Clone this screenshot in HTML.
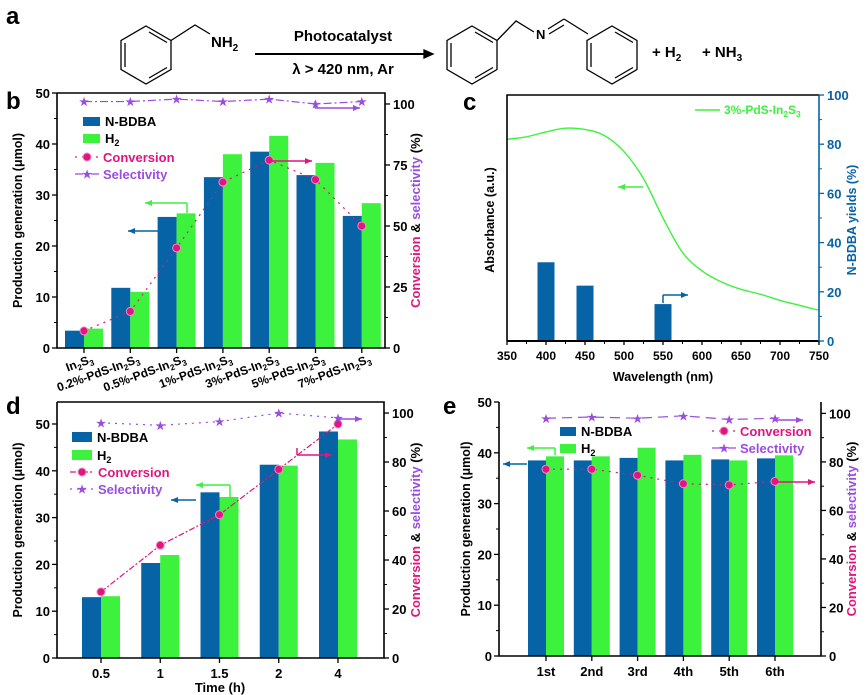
<!DOCTYPE html>
<html><head><meta charset="utf-8"><style>
html,body{margin:0;padding:0;background:#fff}
svg{display:block;font-family:"Liberation Sans",Arial,sans-serif;font-weight:bold}
</style></head><body>
<svg id="fig" width="866" height="695" viewBox="0 0 866 695" xmlns="http://www.w3.org/2000/svg">
<!-- Panel a: reaction scheme -->
<g stroke="#000" stroke-width="1.3" fill="none">
  <polygon points="146,26 171,40.5 171,69.5 146,84 121,69.5 121,40.5"/>
  <line x1="125" y1="43" x2="125" y2="67"/><line x1="149" y1="32" x2="167" y2="42.5"/><line x1="149" y1="78" x2="167" y2="67.5"/>
  <polyline points="171,40.5 195,25 210,34"/>
  <line x1="255" y1="54" x2="424" y2="54" stroke-width="2"/>
  <polygon points="424,50 433,54 424,58" fill="#000"/>
  <polygon points="472,26 497,40.5 497,69.5 472,84 447,69.5 447,40.5"/>
  <line x1="451" y1="43" x2="451" y2="67"/><line x1="475" y1="32" x2="493" y2="42.5"/><line x1="475" y1="78" x2="493" y2="67.5"/>
  <polyline points="497,40.5 516,21 534,32"/>
  <line x1="548" y1="29" x2="564" y2="19"/><line x1="549" y1="34" x2="564" y2="25"/>
  <line x1="564" y1="19" x2="588" y2="34"/>
  <polygon points="612,26 637,40.5 637,69.5 612,84 587,69.5 587,40.5"/>
  <line x1="591" y1="43" x2="591" y2="67"/><line x1="615" y1="32" x2="633" y2="42.5"/><line x1="615" y1="78" x2="633" y2="67.5"/>
</g>
<g font-size="15" fill="#000">
  <text x="6" y="24" font-size="24">a</text>
  <text x="211" y="47">NH<tspan font-size="10" dy="4">2</tspan></text>
  <text x="343" y="41" text-anchor="middle">Photocatalyst</text>
  <text x="343" y="74" text-anchor="middle">λ &gt; 420 nm, Ar</text>
  <text x="536" y="39" font-size="13">N</text>
  <text x="652" y="57">+ H<tspan font-size="10" dy="4">2</tspan></text>
  <text x="702" y="57">+ NH<tspan font-size="10" dy="4">3</tspan></text>
</g>
<g id="pb"></g><g id="pc"></g><g id="pd"></g><g id="pe"></g>
</svg>
<script>
// ---------- Panel b data ----------
const bCats = ["In2S3","0.2%-PdS-In2S3","0.5%-PdS-In2S3","1%-PdS-In2S3","3%-PdS-In2S3","5%-PdS-In2S3","7%-PdS-In2S3"];
const bNBDBA = [3.4, 11.8, 25.7, 33.5, 38.5, 33.9, 25.9];
const bH2 = [3.8, 11.0, 26.4, 38.0, 41.6, 36.3, 28.4];
const bConv = [7, 15, 41, 68, 77, 69, 50];
const bSel = [101, 101, 102, 101, 102, 100, 101];
const bLeftTicks = [0, 10, 20, 30, 40, 50];
const bRightTicks = [0, 25, 50, 75, 100];
// ---------- Panel c data ----------
const cWave = [350,375,400,425,450,475,500,525,550,575,600,625,650,675,700,725,750];
const cAbs = [82,83,85,86.5,86,83.5,77,66,50,36,28.5,24,21,19,16.5,14.5,12.5];
const cBarWave = [400, 450, 550];
const cYield = [32, 22.5, 15];
const cXTicks = [350,400,450,500,550,600,650,700,750];
const cRightTicks = [0,20,40,60,80,100];
// ---------- Panel d data ----------
const dCats = ["0.5","1","1.5","2","4"];
const dNBDBA = [13, 20.3, 35.4, 41.3, 48.4];
const dH2 = [13.2, 22, 34.4, 41.1, 46.7];
const dConv = [27, 46, 58.5, 77, 95.5];
const dSel = [96, 95, 96.5, 100, 98];
const dLeftTicks = [0,10,20,30,40,50];
const dRightTicks = [0,20,40,60,80,100];
// ---------- Panel e data ----------
const eCats = ["1st","2nd","3rd","4th","5th","6th"];
const eNBDBA = [38.5, 38.5, 39, 38.5, 38.7, 38.9];
const eH2 = [39.3, 39.3, 41, 39.6, 38.5, 39.5];
const eConv = [77, 77, 74.5, 71, 70.5, 72];
const eSel = [98, 98.5, 98, 99, 97.5, 98];
const eLeftTicks = [0,10,20,30,40,50];
const eRightTicks = [0,20,40,60,80,100];

const NS="http://www.w3.org/2000/svg";
const BLUE="#0563a6", GREEN="#3cf23c", MAG="#e0157f", PUR="#9b4de0";
function mk(parent, tag, attrs, text){
  const e=document.createElementNS(NS,tag);
  for(const k in attrs) e.setAttribute(k,attrs[k]);
  if(text!==undefined) e.textContent=text;
  parent.appendChild(e); return e;
}
function arrow(g,x1,y1,x2,y2,col,name){
  const a=mk(g,"line",{x1,y1,x2,y2,stroke:col,"stroke-width":1.5});
  
  
  const dir=Math.sign(x2-x1)||1;
  const h=mk(g,"polygon",{points:`${x2},${y2} ${x2-7*dir},${y2-3} ${x2-7*dir},${y2+3}`,fill:col});
  
  
}
function star(g,x,y,col){
  const s=mk(g,"text",{x,y:y+4,"text-anchor":"middle","font-size":11,fill:col},"★");
  
  
}
function dot(g,x,y){
  const c=mk(g,"circle",{cx:x,cy:y,r:4,fill:MAG,stroke:"#f08bc0","stroke-width":1});
  
  
}
function subText(g,x,y,str,attrs){
  const t=mk(g,"text",Object.assign({x,y},attrs));
  let out=str.replace(/In2S3/g,"In\u2082S\u2083").replace(/^H2$/,"H\u2082");
  const segs=out.split(/([\u2082\u2083])/);
  segs.forEach(s=>{
    if(s==="\u2082"||s==="\u2083"){
      mk(t,"tspan",{"font-size":"0.7em",dy:3},s==="\u2082"?"2":"3");
      mk(t,"tspan",{dy:-3},"\u200b");
    } else if(s) mk(t,"tspan",{},s);
  });
  return t;
}

function barPanel(id, o){
  const g=document.getElementById(id);
  const {x0,x1,y0,y1,lmax,rmax,first,step,bw}=o;
  const yl=v=>y1-(v/lmax)*(y1-y0);
  const yr=v=>y1-(v/rmax)*(y1-y0);
  const cx=i=>first+i*step;
  o.nb.forEach((v,i)=>{
    const r=mk(g,"rect",{x:cx(i)-bw,y:yl(v),width:bw,height:y1-yl(v),fill:BLUE});
    
    
  });
  o.h2.forEach((v,i)=>{
    const r=mk(g,"rect",{x:cx(i),y:yl(v),width:bw,height:y1-yl(v),fill:GREEN});
    
    
  });
  const cl=mk(g,"polyline",{points:o.conv.map((v,i)=>cx(i)+","+yr(v)).join(" "),fill:"none",stroke:MAG,"stroke-width":1.2,"stroke-dasharray":o.convDash});
  
  
  const sl=mk(g,"polyline",{points:o.sel.map((v,i)=>cx(i)+","+yr(v)).join(" "),fill:"none",stroke:PUR,"stroke-width":1.2,"stroke-dasharray":o.selDash});
  
  
  o.conv.forEach((v,i)=>dot(g,cx(i),yr(v)));
  o.sel.forEach((v,i)=>star(g,cx(i),yr(v),PUR));
  const fr=mk(g,"path",{d:`M${x0},${y0}V${y1}H${x1}V${y0}`+(o.top?`H${x0}`:""),fill:"none",stroke:"#000","stroke-width":1.6});
  
  
  o.lt.forEach((v,k)=>{
    mk(g,"line",{x1:x0-5,y1:yl(v),x2:x0,y2:yl(v),stroke:"#000","stroke-width":1.3});
    if(k<o.lt.length-1) mk(g,"line",{x1:x0-3,y1:yl(v+(o.lt[1]-o.lt[0])/2),x2:x0,y2:yl(v+(o.lt[1]-o.lt[0])/2),stroke:"#000"});
    const t=mk(g,"text",{x:x0-7,y:yl(v)+5,"text-anchor":"end","font-size":13},String(v));
    
    
  });
  o.rt.forEach((v,k)=>{
    mk(g,"line",{x1:x1,y1:yr(v),x2:x1+5,y2:yr(v),stroke:"#000","stroke-width":1.3});
    if(k<o.rt.length-1) mk(g,"line",{x1:x1,y1:yr(v+(o.rt[1]-o.rt[0])/2),x2:x1+3,y2:yr(v+(o.rt[1]-o.rt[0])/2),stroke:"#000"});
    const t=mk(g,"text",{x:x1+8,y:yr(v)+5,"font-size":13},String(v));
    
    
  });
  o.cats.forEach((c,i)=>{
    mk(g,"line",{x1:cx(i),y1:y1,x2:cx(i),y2:y1+5,stroke:"#000","stroke-width":1.3});
    let t;
    if(o.rot){
      t=subText(g,cx(i)+10,y1+14,c,{"text-anchor":"end","font-size":12,transform:`rotate(-20 ${cx(i)+10} ${y1+14})`});
    } else {
      t=mk(g,"text",{x:cx(i),y:y1+20,"text-anchor":"middle","font-size":13},c);
    }
    
    
  });
  const lx=o.ltx, ly=(y0+y1)/2;
  const lt=mk(g,"text",{x:lx,y:ly,"text-anchor":"middle","font-size":12.5,transform:`rotate(-90 ${lx} ${ly})`},"Production generation (μmol)");
  
  
  const rx=o.rtx;
  const rtt=mk(g,"text",{x:rx,y:ly,"text-anchor":"middle","font-size":13,transform:`rotate(-90 ${rx} ${ly})`});
  mk(rtt,"tspan",{fill:MAG},"Conversion ");
  mk(rtt,"tspan",{},"& ");
  mk(rtt,"tspan",{fill:PUR},"selectivity ");
  mk(rtt,"tspan",{},"(%)");
  
  
  const pl=mk(g,"text",{x:o.plx,y:o.ply,"font-size":24},o.label);
  
  
  const L=o.leg;
  const r1=mk(g,"rect",{x:L.x,y:L.y,width:L.w,height:L.h,fill:BLUE});
   
  mk(g,"text",{x:L.x+L.w+5,y:L.y+L.h,"font-size":13},"N-BDBA");
  const r2=mk(g,"rect",{x:L.x,y:L.y+L.dy,width:L.w,height:L.h,fill:GREEN});
   
  subText(g,L.x+L.w+5,L.y+L.dy+L.h,"H2",{"font-size":13});
  const C=o.leg2;
  mk(g,"line",{x1:C.x,y1:C.y,x2:C.x+24,y2:C.y,stroke:MAG,"stroke-width":1.2,"stroke-dasharray":o.convDash});
  dot(g,C.x+12,C.y);
  mk(g,"text",{x:C.x+28,y:C.y+5,"font-size":13,fill:MAG},"Conversion");
  mk(g,"line",{x1:C.x,y1:C.y+C.dy,x2:C.x+24,y2:C.y+C.dy,stroke:PUR,"stroke-width":1.2,"stroke-dasharray":o.selDash});
  star(g,C.x+12,C.y+C.dy,PUR);
  mk(g,"text",{x:C.x+28,y:C.y+C.dy+5,"font-size":13,fill:PUR},"Selectivity");
  o.arrows.forEach(a=>{
    if(a.v) mk(g,"line",{x1:a.v[0],y1:a.v[1],x2:a.v[0],y2:a.v[2],stroke:a.c,"stroke-width":1.5});
    arrow(g,a.x1,a.y,a.x2,a.y,a.c,a.n);
  });
}

barPanel("pb",{x0:57,x1:385,y0:93,y1:348,lmax:50,rmax:104.5,first:84,step:46.3,bw:19,
  nb:bNBDBA,h2:bH2,conv:bConv,sel:bSel,lt:bLeftTicks,rt:bRightTicks,cats:bCats,rot:true,top:true,
  convDash:"2 5",selDash:"8 3 2 3",ltx:22,rtx:420,label:"b",plx:6,ply:109,
  leg:{x:83,y:117,w:17,h:9,dy:17},leg2:{x:75,y:157,dy:17},
  arrows:[{x1:187,x2:145,y:203,c:GREEN,v:[187,203,213],n:"arrow-h2-left-axis"},
          {x1:158,x2:128,y:231,c:BLUE,n:"arrow-nbdba-left-axis"},
          {x1:270,x2:312,y:161,c:MAG,n:"arrow-conversion-right-axis"},
          {x1:315,x2:360,y:108,c:PUR,v:[315,101,108],n:"arrow-selectivity-right-axis"}]});

barPanel("pd",{x0:57,x1:384,y0:402,y1:658,lmax:54.7,rmax:104.5,first:101,step:59.25,bw:19,
  nb:dNBDBA,h2:dH2,conv:dConv,sel:dSel,lt:dLeftTicks,rt:dRightTicks,cats:dCats,rot:false,top:true,
  convDash:"6 2 2 2",selDash:"2 5",ltx:22,rtx:420,label:"d",plx:6,ply:414,
  leg:{x:72,y:432,w:20,h:10,dy:18},leg2:{x:70,y:472,dy:17},
  arrows:[{x1:230,x2:196,y:485,c:GREEN,v:[230,485,497],n:"arrow-h2-left-axis"},
          {x1:196,x2:171,y:500,c:BLUE,n:"arrow-nbdba-left-axis"},
          {x1:297,x2:332,y:455,c:MAG,v:[297,448,455],n:"arrow-conversion-right-axis"},
          {x1:338,x2:362,y:419,c:PUR,n:"arrow-selectivity-right-axis"}]});

barPanel("pe",{x0:499,x1:821,y0:402,y1:656,lmax:50,rmax:104.7,first:546,step:45.8,bw:18,
  nb:eNBDBA,h2:eH2,conv:eConv,sel:eSel,lt:eLeftTicks,rt:eRightTicks,cats:eCats,rot:false,top:false,
  convDash:"2 5",selDash:"10 6",ltx:470,rtx:856,label:"e",plx:443,ply:414,
  leg:{x:560,y:427,w:16,h:9,dy:17},leg2:{x:712,y:431,dy:17},
  arrows:[{x1:555,x2:527,y:448,c:GREEN,v:[555,448,455],n:"arrow-h2-left-axis"},
          {x1:527,x2:503,y:464,c:BLUE,n:"arrow-nbdba-left-axis"},
          {x1:775,x2:815,y:482,c:MAG,n:"arrow-conversion-right-axis"},
          {x1:775,x2:803,y:420,c:PUR,n:"arrow-selectivity-right-axis"}]});

// ---------- Panel c ----------
(function(){
  const g=document.getElementById("pc");
  const x0=507,x1=819,y0=95,y1=341;
  const xs=w=>x0+(w-350)/400*(x1-x0);
  const yr=v=>y1-v/100*(y1-y0);
  cYield.forEach((v,i)=>{
    const r=mk(g,"rect",{x:xs(cBarWave[i])-8.5,y:yr(v),width:17,height:y1-yr(v),fill:BLUE});
    
    
  });
  const P=cWave.map((w,i)=>[xs(w),yr(cAbs[i])]);
  let d=`M${P[0][0]},${P[0][1]}`;
  for(let i=0;i<P.length-1;i++){
    const p0=P[i-1]||P[i],p1=P[i],p2=P[i+1],p3=P[i+2]||P[i+1];
    d+=` C${p1[0]+(p2[0]-p0[0])/6},${p1[1]+(p2[1]-p0[1])/6} ${p2[0]-(p3[0]-p1[0])/6},${p2[1]-(p3[1]-p1[1])/6} ${p2[0]},${p2[1]}`;
  }
  const cv=mk(g,"path",{d,fill:"none",stroke:GREEN,"stroke-width":1.4});
  
  
  const fr=mk(g,"path",{d:`M${x0},${y1}V${y0}H${x1}`,fill:"none",stroke:"#000","stroke-width":1.6});
  
  
  mk(g,"line",{x1:x0,y1:y1,x2:x1,y2:y1,stroke:"#000","stroke-width":2});
  mk(g,"line",{x1:x1,y1:y0,x2:x1,y2:y1,stroke:BLUE,"stroke-width":1.6});
  cXTicks.forEach((w,k)=>{
    mk(g,"line",{x1:xs(w),y1:y1,x2:xs(w),y2:y1+4,stroke:"#000","stroke-width":1.3});
    if(k<cXTicks.length-1) mk(g,"line",{x1:xs(w+25),y1:y1,x2:xs(w+25),y2:y1+3,stroke:"#000"});
    const t=mk(g,"text",{x:xs(w),y:y1+19,"text-anchor":"middle","font-size":12},String(w));
    
    
  });
  cRightTicks.forEach((v,k)=>{
    mk(g,"line",{x1:x1,y1:yr(v),x2:x1+5,y2:yr(v),stroke:BLUE,"stroke-width":1.3});
    if(k<cRightTicks.length-1) mk(g,"line",{x1:x1,y1:yr(v+10),x2:x1+3,y2:yr(v+10),stroke:BLUE});
    const t=mk(g,"text",{x:x1+8,y:yr(v)+5,"font-size":13,fill:BLUE},String(v));
    
    
  });
  const xt=mk(g,"text",{x:663,y:381,"text-anchor":"middle","font-size":12.5},"Wavelength (nm)");
   
  const at=mk(g,"text",{x:494,y:220,"text-anchor":"middle","font-size":12.5,transform:"rotate(-90 494 220)"},"Absorbance (a.u.)");
   
  const rt=mk(g,"text",{x:856,y:220,"text-anchor":"middle","font-size":12.5,fill:BLUE,transform:"rotate(-90 856 220)"},"N-BDBA yields (%)");
   
  const pl=mk(g,"text",{x:463,y:110,"font-size":24},"c");
   
  const ll=mk(g,"line",{x1:695,y1:110,x2:720,y2:110,stroke:GREEN,"stroke-width":1.4});
   
  const lt=subText(g,724,114,"3%-PdS-In2S3",{"font-size":12,fill:GREEN});
   
  arrow(g,643,187,618,187,GREEN,"arrow-absorbance-left-axis");
  mk(g,"line",{x1:663,y1:303,x2:663,y2:295,stroke:BLUE,"stroke-width":1.5});
  arrow(g,663,295,688,295,BLUE,"arrow-yield-right-axis");
})();
(function(){
  const g=document.getElementById("pd");
  const t=mk(g,"text",{x:220,y:692,"text-anchor":"middle","font-size":13},"Time (h)");
  
  
})();
</script>
</body></html>
